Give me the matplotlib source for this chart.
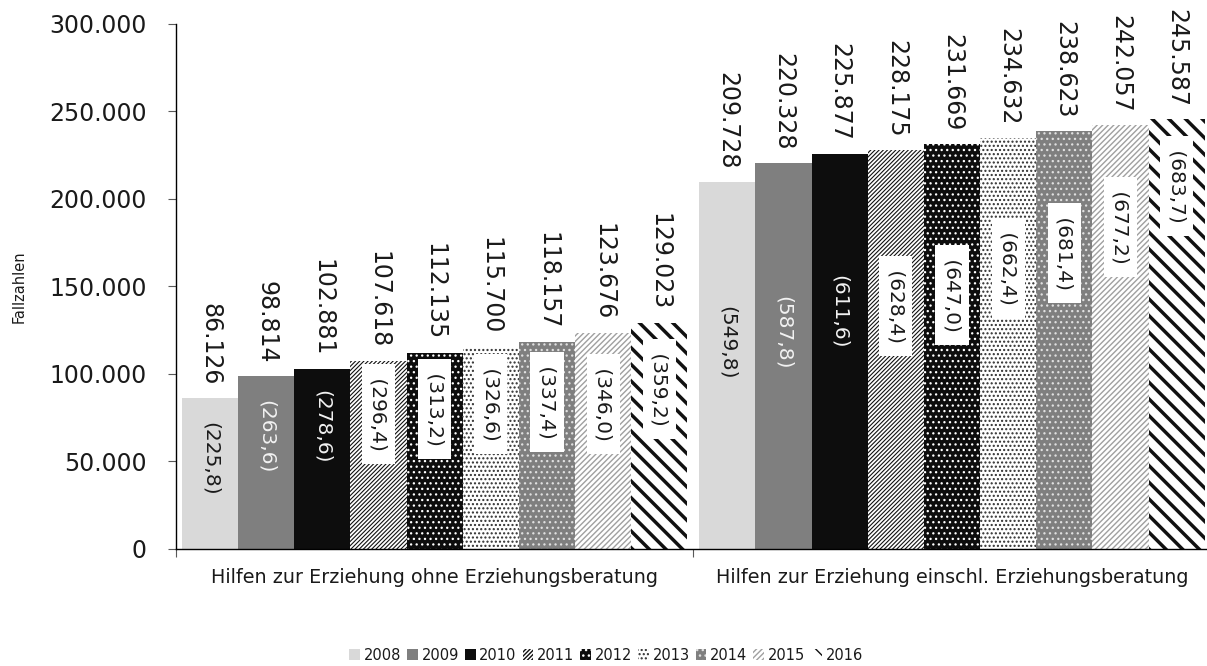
import matplotlib
matplotlib.use("Agg")
import matplotlib.pyplot as plt
from matplotlib.ticker import FuncFormatter, FixedLocator
import numpy as np

# ---- data ----
categories = ["Hilfen zur Erziehung ohne Erziehungsberatung",
              "Hilfen zur Erziehung einschl. Erziehungsberatung"]
years = ["2008", "2009", "2010", "2011", "2012", "2013", "2014", "2015", "2016"]

cases_ohne = [86126, 98814, 102881, 107618, 112135, 115700, 118157, 123676, 129023]
cases_einschl = [209728, 220328, 225877, 228175, 231669, 234632, 238623, 242057, 245587]

rate_ohne = [225.8, 263.6, 278.6, 296.4, 313.2, 326.6, 337.4, 346.0, 359.2]
rate_einschl = [549.8, 587.8, 611.6, 628.4, 647.0, 662.4, 681.4, 677.2, 683.7]

y_ticks = [0, 50000, 100000, 150000, 200000, 250000, 300000]

# ---- layout / style ----
# vertical placement of the rate labels, as a share of each bar's height
rate_label_pos = [
    [0.597, 0.648, 0.678, 0.717, 0.713, 0.716, 0.711, 0.670, 0.709],
    [0.561, 0.560, 0.600, 0.609, 0.627, 0.684, 0.709, 0.760, 0.845],
]

# (face colour, hatch colour, hatch, hatch linewidth, boxed label, label colour)
styles = [
    ("#d9d9d9", "#d9d9d9", None,        1.0, False, "#1a1a1a"),
    ("#7f7f7f", "#7f7f7f", None,        1.0, False, "#f2f2f2"),
    ("#0d0d0d", "#0d0d0d", None,        1.0, False, "#f2f2f2"),
    ("#ffffff", "#111111", "////////",  0.8, True,  "#1a1a1a"),
    ("#0d0d0d", "#ffffff", "...",       0.9, True,  "#1a1a1a"),
    ("#ffffff", "#2e2e2e", "....",      1.0, True,  "#1a1a1a"),
    ("#7f7f7f", "#e0e0e0", "...",       0.9, True,  "#1a1a1a"),
    ("#ffffff", "#a0a0a0", "//////",    1.0, True,  "#1a1a1a"),
    ("#ffffff", "#111111", "\\\\",      2.5, True,  "#1a1a1a"),
]

plt.rcParams["font.family"] = ["DejaVu Sans"]

fig = plt.figure(figsize=(12.07, 6.66), dpi=100)
ax = fig.add_axes([0.1458, 0.1757, 0.8572, 0.7883])

values = np.array([cases_ohne, cases_einschl], dtype=float)
rates = np.array([rate_ohne, rate_einschl], dtype=float)
x = np.arange(len(categories))
n = len(years)
group_span = 0.977
w = group_span / n
offsets = (np.arange(n) - (n - 1) / 2) * w

for i, year in enumerate(years):
    face, hcol, hatch, hlw, boxed, tcol = styles[i]
    with plt.rc_context({"hatch.linewidth": hlw}):
        bars = ax.bar(x + offsets[i], values[:, i], width=w, color=face,
                      edgecolor=hcol, hatch=hatch, linewidth=0, label=year)
        for p in bars:
            if hasattr(p, "set_hatch_linewidth"):
                p.set_hatch_linewidth(hlw)
    for g in range(len(categories)):
        xv = x[g] + offsets[i]
        v = values[g, i]
        ax.annotate(f"{int(v):,}".replace(",", "."), xy=(xv, v),
                    xytext=(0, 9), textcoords="offset points",
                    rotation=-90, ha="center", va="bottom",
                    fontsize=17, color="#1a1a1a")
        rtxt = "(" + f"{rates[g, i]:.1f}".replace(".", ",") + ")"
        ypos = v * rate_label_pos[g][i]
        if boxed:
            ax.text(xv, ypos, " " + rtxt + " ", rotation=-90, ha="center",
                    va="center", fontsize=14.5, color=tcol, zorder=5,
                    bbox=dict(boxstyle="square,pad=0.35", fc="white",
                              ec="none"))
        else:
            ax.text(xv, ypos, rtxt, rotation=-90, ha="center", va="center",
                    fontsize=14.5, color=tcol, zorder=5)

ax.set_xlim(-0.5, 1.5)
ax.set_ylim(0, 300000)
ax.set_yticks(y_ticks)
ax.yaxis.set_major_formatter(FuncFormatter(lambda v, p: f"{int(v):,}".replace(",", ".")))
ax.tick_params(axis="y", direction="out", length=6, width=0.8, color="#595959",
               labelsize=17, labelcolor="#1a1a1a", pad=15)

ax.set_xticks(x)
ax.set_xticklabels(categories, fontsize=13.8, color="#1a1a1a")
ax.tick_params(axis="x", which="major", length=0, pad=14)
ax.xaxis.set_minor_locator(FixedLocator([-0.5, 0.5, 1.5]))
ax.tick_params(axis="x", which="minor", direction="out", length=6, width=0.8,
               color="#595959")

for s in ("top", "right"):
    ax.spines[s].set_visible(False)
for s in ("left", "bottom"):
    ax.spines[s].set_color("black")
    ax.spines[s].set_linewidth(1.0)

ax.set_ylabel("Fallzahlen", fontsize=10.5, color="#1a1a1a")
ax.yaxis.set_label_coords(-0.144, 0.5)

fig.legend(loc="center", bbox_to_anchor=(0.502, 1 - 655 / 666), ncol=n,
           frameon=False, fontsize=10.5, handlelength=0.75, handleheight=0.75,
           handletextpad=0.25, columnspacing=0.4, labelcolor="#1a1a1a")

fig.savefig("out.png", dpi=100)
